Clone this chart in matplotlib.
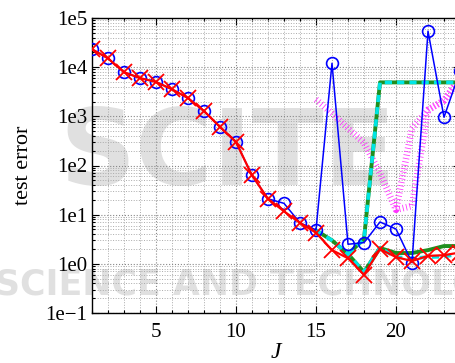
import numpy as np
import matplotlib
matplotlib.use("Agg")
import matplotlib.pyplot as plt
from matplotlib.ticker import FixedLocator, FixedFormatter, MultipleLocator, NullFormatter, LogLocator

nan = np.nan

J = list(range(1, 25))

err_full = [23200, 15100, 7900, 6000, 5000, 3550, 2350, 1280, 610, 300, 63, 21,
            17, 6.8, 4.9, 12000, 2.5, 2.7, 7.1, 5.1, 1.06, 54000, 960, 8300]
err_ridge = [23200, 15100, 7900, 6000, 5000, 3550, 2350, 1280, 610, 300, 63, 21,
             11.7, 6.8, 4.3, 1.9, 1.3, 0.6, 2.0, 1.37, 1.14, 1.45, 1.5, 1.7]
err_green = [nan] * 14 + [4.8, 3.0, 1.58, 0.68, 2.1, 1.66, 1.66, 1.9, 2.3, 2.3]
err_cyan = [nan] * 14 + [4.8, 3.0, 1.58, 0.68, 2.1, 1.37, 1.3, 1.37, 1.4, 1.6]
err_jump = [nan] * 16 + [1.58, 3.2, 4900, 4900, 4900, 4900, 4900, 4900]
err_mag_a = [nan] * 14 + [2200, 1150, 570, 290, 70, 12.6, 570, 1350, 2100, 6000]
err_mag_b = [nan] * 19 + [12.6, 15, 1350, 2100, 6000]

x_ticks = [5, 10, 15, 20]
y_ticks = [1e-1, 1e0, 1e1, 1e2, 1e3, 1e4, 1e5]
y_tick_labels = ["1e\u22121", "1e0", "1e1", "1e2", "1e3", "1e4", "1e5"]

plt.rcParams["font.family"] = ["Liberation Serif", "DejaVu Serif"]

fig = plt.figure(figsize=(4.56, 3.63), dpi=100, facecolor="white")

# faint publisher mark behind the plot
fig.text(0.50, 0.43, "SCITE", fontsize=76, fontweight="bold", color="#e0e0e0",
         family="DejaVu Sans", ha="center", va="bottom", zorder=-5)
fig.text(-0.01, 0.215, "SCIENCE AND TECHNOLOGY", fontsize=25, fontweight="bold",
         color="#e0e0e0", family="DejaVu Sans", ha="left", va="center", zorder=-5)

ax = fig.add_axes([92 / 456, 50 / 363, 368 / 456, 295 / 363])
ax.patch.set_alpha(0.0)

hatch = (0, (0.12, 0.4))
ax.plot(J, err_mag_a, color="#ff33ff", lw=4.8, linestyle=hatch,
        dash_capstyle="butt", zorder=2)
ax.plot(J, err_mag_b, color="#ff33ff", lw=4.8, linestyle=hatch,
        dash_capstyle="butt", zorder=2)

ax.plot(J, err_green, color="#1f8f1f", lw=2.8, zorder=3)
ax.plot(J, err_jump, color="#1f8f1f", lw=2.8, zorder=3)
ax.plot(J, err_cyan, color="#00e5e5", lw=2.6, linestyle=(0, (2.0, 1.4)), zorder=4)
ax.plot(J, err_jump, color="#00e5e5", lw=2.6, linestyle=(0, (2.0, 1.4)), zorder=4)

ax.plot(J, err_full, color="#0000ff", lw=1.1, marker="o", ms=8.5, mfc="none",
        mec="#0000ff", mew=1.2, zorder=5)
ax.plot(J, err_ridge, color="#ff0000", lw=1.6, marker="x", ms=11, mew=1.3, zorder=6)

ax.set_yscale("log")
ax.set_xlim(1, 24)
ax.set_ylim(1e-1, 1e5)

ax.xaxis.set_major_locator(FixedLocator(x_ticks))
ax.xaxis.set_minor_locator(MultipleLocator(1))
ax.yaxis.set_major_locator(FixedLocator(y_ticks))
ax.yaxis.set_major_formatter(FixedFormatter(y_tick_labels))
ax.yaxis.set_minor_locator(LogLocator(base=10, subs=np.arange(2, 10), numticks=20))
ax.yaxis.set_minor_formatter(NullFormatter())

ax.grid(which="major", linestyle=":", color="#888888", lw=0.8)
ax.grid(which="minor", linestyle=":", color="#aaaaaa", lw=0.7)
ax.set_axisbelow(True)

ax.tick_params(which="both", direction="in", top=True, right=True, labelsize=15,
               width=0.8)
ax.tick_params(which="major", length=5)
ax.tick_params(axis="x", which="major", pad=7)
ax.tick_params(which="minor", length=2.5)
for s in ax.spines.values():
    s.set_linewidth(1.0)

ax.set_xlabel("J", fontsize=17, style="italic", labelpad=0)
ax.set_ylabel("test error", fontsize=16, labelpad=9)

fig.savefig("out.png", dpi=100)
